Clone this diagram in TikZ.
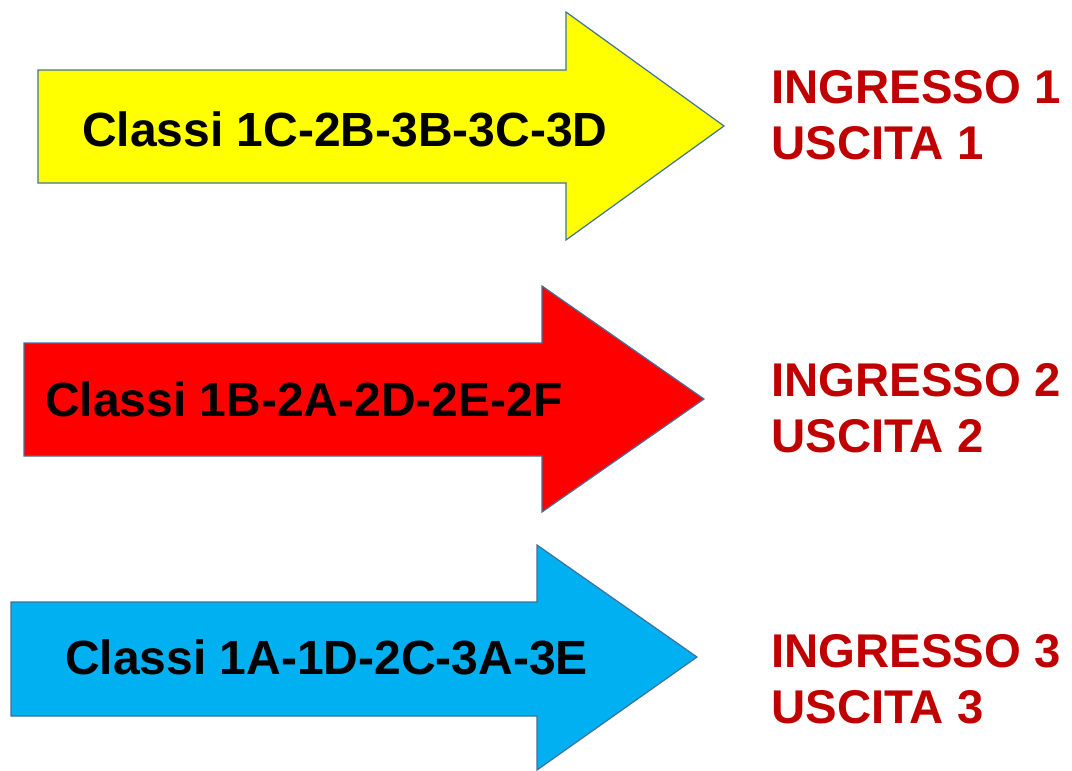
\documentclass[tikz,border=0pt]{standalone}
\usepackage{fontspec}
\setmainfont{Liberation Sans}
\definecolor{arrowline}{RGB}{65,113,156}
\definecolor{giallo}{RGB}{255,255,0}
\definecolor{rosso}{RGB}{255,0,0}
\definecolor{azzurro}{RGB}{0,176,240}
\definecolor{scuro}{RGB}{192,0,0}
\tikzset{
  freccia/.style={draw=arrowline, line width=0.9pt, line join=miter},
  classi/.style={anchor=base west, inner sep=0pt, font=\fontsize{36}{42}\selectfont\bfseries},
  uscita/.style={anchor=base west, inner sep=0pt, align=left, text=scuro, font=\fontsize{35.5}{41.5}\selectfont\bfseries}
}
\begin{document}
\begin{tikzpicture}[x=0.75pt,y=0.75pt,yscale=-1,xscale=1]
\useasboundingbox (0,0) rectangle (1072,771);

%Shape: Right Arrow (yellow)
\draw [freccia, fill=giallo] (38,70) -- (566,70) -- (566,12) -- (724,126) -- (566,240) -- (566,183) -- (38,183) -- cycle ;
%Shape: Right Arrow (red)
\draw [freccia, fill=rosso] (24,343) -- (542,343) -- (542,286) -- (704,399) -- (542,512) -- (542,456) -- (24,456) -- cycle ;
%Shape: Right Arrow (blue)
\draw [freccia, fill=azzurro] (11,602) -- (537,602) -- (537,545) -- (697,657) -- (537,770) -- (537,716) -- (11,716) -- cycle ;

% Text Node
\draw (82,146) node [classi] (cls1) {Classi 1C-2B-3B-3C-3D};
% Text Node
\draw (45,416) node [classi] (cls2) {Classi 1B-2A-2D-2E-2F};
% Text Node
\draw (65,674) node [classi] (cls3) {Classi 1A-1D-2C-3A-3E};

% Text Node
\draw (771,159) node [uscita] (porta1) {INGRESSO 1\\USCITA 1};
% Text Node
\draw (771,452) node [uscita] (porta2) {INGRESSO 2\\USCITA 2};
% Text Node
\draw (771,723) node [uscita] (porta3) {INGRESSO 3\\USCITA 3};

\end{tikzpicture}
\end{document}
